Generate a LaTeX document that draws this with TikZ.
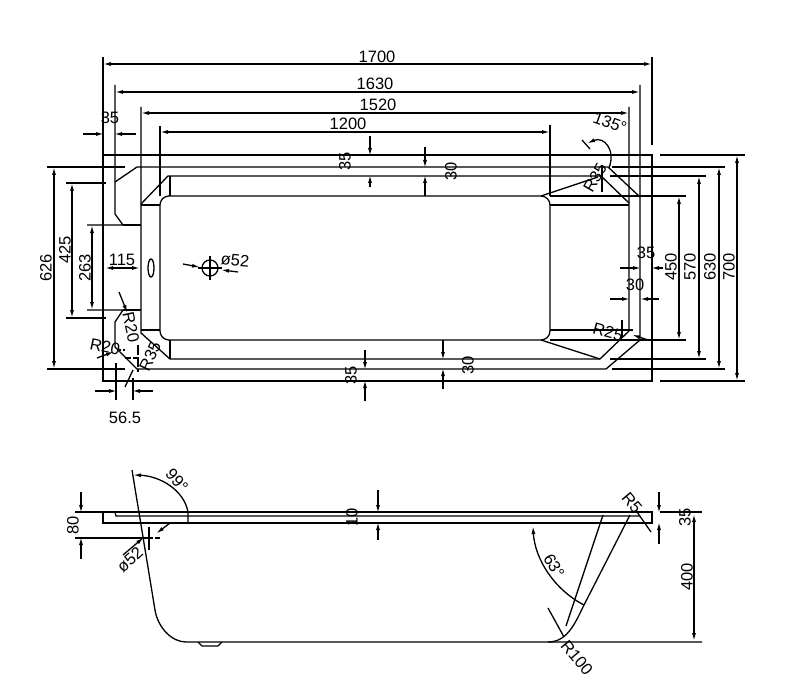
\documentclass[tikz,border=0pt]{standalone}
\usepackage{fontspec}
\setmainfont{Liberation Sans}
\usetikzlibrary{arrows.meta}
\tikzset{
  part/.style={line width=1.3pt},
  dimone/.style={-{Latex[length=8pt,width=4pt]}, line width=1.3pt, shorten >=-1pt},
  dimtwo/.style={{Latex[length=8pt,width=4pt]}-{Latex[length=8pt,width=4pt]}, line width=1.3pt},
  label/.style={inner sep=0pt, font=\fontsize{16.5}{16.5}\selectfont}
}
\begin{document}
\begin{tikzpicture}[x=1pt, y=-1pt]
  \useasboundingbox (0,0) rectangle (800,695);

  % Plan: outer rim
  \draw[part] (103,57) -- (103,381) -- (652,381) -- (652,155) -- (103,155);
  \draw[part] (652,57) -- (652,145);
  % Plan: second rim with the notch on the left
  \draw[part] (137,167) -- (608,167) -- (640,197);
  \draw[part] (640,85) -- (640,340) -- (606,369) -- (137,369) -- (115,347) -- (115,322) -- (123,310) -- (87,310);
  \draw[part] (115,85) -- (115,214) -- (123,225) -- (87,225);
  \draw[part] (115,182) -- (137,167);
  \draw[part] (123,225) -- (141,225);
  \draw[part] (123,310) -- (141,310);
  % Plan: inner rim
  \draw[part] (141,107) -- (141,333) -- (170,359) -- (600,359) -- (629,331) -- (629,107);
  \draw[part] (141,204) -- (168,176) -- (601,176) -- (629,203);
  \draw[part] (141,205) -- (160,205);
  \draw[part] (141,330) -- (160,330);
  \draw[part] (170,176) -- (170,196);
  \draw[part] (170,340) -- (170,359);
  % Plan: floor and right corner panels
  \draw[part, rounded corners=9pt] (160,196) -- (550,196) -- (550,340) -- (160,340) -- cycle;
  \draw[part] (550,205) -- (629,205);
  \draw[part] (550,330) -- (629,330);
  \draw[part] (541,196) -- (598,177);
  \draw[part] (541,340) -- (600,359);
  % Plan: waste and overflow
  \draw[part] (151,268) ellipse (3 and 9);
  \draw[part] (210,268) circle (8);
  \draw[part] (210,256) -- (210,280);
  \draw[part] (198,268) -- (222,268);

  % Extension lines of the plan
  \draw[part] (160,126) -- (160,196);
  \draw[part] (550,125) -- (550,196);
  \draw[part] (47,167) -- (125,167);
  \draw[part] (47,369) -- (125,369);
  \draw[part] (66,183) -- (106,183);
  \draw[part] (66,318) -- (106,318);
  \draw[part] (660,155) -- (745,155);
  \draw[part] (660,381) -- (745,381);
  \draw[part] (612,167) -- (725,167);
  \draw[part] (612,369) -- (725,369);
  \draw[part] (610,176) -- (706,176);
  \draw[part] (610,359) -- (706,359);
  \draw[part] (550,196) -- (686,196);
  \draw[part] (550,340) -- (686,340);
  \draw[part] (116,363) -- (116,400);
  \draw[part] (133,378) -- (133,400);

  % Plan: width dimensions
  \draw[dimtwo] (103,64) -- (652,64);
  \draw[dimtwo] (115,92) -- (640,92);
  \draw[dimtwo] (141,113) -- (629,113);
  \draw[dimtwo] (160,132) -- (550,132);
  \draw[dimone] (83,134) -- (103,134);
  \draw[dimone] (136,134) -- (115,134);
  \draw[dimtwo] (105,268) -- (140,268);
  \draw[dimone] (95,391) -- (116,391);
  \draw[dimone] (153,391) -- (133,391);
  \draw[dimone] (620,268) -- (640,268);
  \draw[dimone] (663,268) -- (652,268);
  \draw[dimone] (610,299) -- (629,299);
  \draw[dimone] (659,299) -- (641,299);
  % Plan: height dimensions
  \draw[dimtwo] (54,167) -- (54,369);
  \draw[dimtwo] (72,183) -- (72,318);
  \draw[dimtwo] (92,225) -- (92,310);
  \draw[dimtwo] (737,155) -- (737,381);
  \draw[dimtwo] (719,167) -- (719,369);
  \draw[dimtwo] (699,176) -- (699,359);
  \draw[dimtwo] (679,196) -- (679,340);
  \draw[dimone] (370,136) -- (370,155);
  \draw[dimone] (370,187) -- (370,176);
  \draw[dimone] (425,147) -- (425,167);
  \draw[dimone] (425,196) -- (425,176);
  \draw[dimone] (365,350) -- (365,369);
  \draw[dimone] (365,401) -- (365,381);
  \draw[dimone] (443,340) -- (443,359);
  \draw[dimone] (443,389) -- (443,369);

  % Plan: leaders and radius marks
  \draw[dimone] (183,264) -- (199,267);
  \draw[dimone] (238,272) -- (222,270);
  \draw[dimone] (119,292) -- (127,312);
  \draw[dimone] (97,358) -- (113,352);
  \draw[part] (125,387) -- (133,370);
  \draw[part, dashed, dash pattern=on 4pt off 2pt] (117,350) -- (125,350);
  \draw[part, dashed, dash pattern=on 6pt off 2pt] (125,358) -- (140,358);
  \draw[part, dashed, dash pattern=on 10pt off 2pt] (138,345) -- (138,372);
  \draw[part] (602,165) -- (602,192);
  \draw[part] (622,320) -- (622,338);
  \draw[part] (585,330) -- (633,330);
  \draw[dimone] (648,340) -- (633,335);
  \draw[part] (582,140) -- (590,149);
  \draw[dimone] (609,168) .. controls (616,150) and (604,136) .. (588,143);

  % Plan: labels
  \node[label] (w1700) at (377,57) {1700};
  \node[label] (w1630) at (375,84) {1630};
  \node[label] (w1520) at (378,105) {1520};
  \node[label] (w1200) at (348,124) {1200};
  \node[label] (w35a) at (110,118) {35};
  \node[label] (w115) at (122,260) {115};
  \node[label] (w565) at (125,418) {56.5};
  \node[label] (w35b) at (646,253) {35};
  \node[label] (w30) at (635,285) {30};
  \node[label, rotate=90] (h626) at (46,268) {626};
  \node[label, rotate=90] (h425) at (65,250) {425};
  \node[label, rotate=90] (h263) at (85,268) {263};
  \node[label, rotate=90] (h700) at (729,267) {700};
  \node[label, rotate=90] (h630) at (710,267) {630};
  \node[label, rotate=90] (h570) at (690,267) {570};
  \node[label, rotate=90] (h450) at (671,267) {450};
  \node[label, rotate=90] (h35a) at (345,161) {35};
  \node[label, rotate=90] (h30a) at (451,171) {30};
  \node[label, rotate=90] (h35b) at (351,375) {35};
  \node[label, rotate=90] (h30b) at (468,365) {30};
  \node[label, rotate=-5] (dia52) at (235,260) {ø52};
  \node[label, rotate=-78] (r20a) at (131,327) {R20};
  \node[label, rotate=-12] (r20b) at (105,347) {R20};
  \node[label, rotate=65] (r35a) at (150,356) {R35};
  \node[label, rotate=60] (r35b) at (595,178) {R35};
  \node[label, rotate=-15] (r25) at (608,332) {R25};
  \node[label, rotate=-20] (ang135) at (610,123) {135°};

  % Elevation: bath body
  \draw[part] (75,512) -- (652,512) -- (652,523) -- (103,523) -- (103,512);
  \draw[part] (115,512) -- (116,516) -- (640,516);
  \draw[part] (132,470) -- (155,610) .. controls (158,628) and (172,642) .. (186,642) -- (702,642);
  \draw[part] (198,642) -- (202,646) -- (218,646) -- (222,642);
  \draw[part] (630,515) -- (583,607) .. controls (574,626) and (566,642) .. (548,642);
  \draw[part] (603,515) -- (566,626);

  % Elevation: extension lines
  \draw[part] (75,538) -- (145,538);
  \draw[part] (660,512) -- (702,512);
  \draw[part] (149,527) -- (149,550);
  \draw[part, dashed, dash pattern=on 8pt off 2pt] (145,538) -- (160,538);

  % Elevation: dimensions
  \draw[dimone] (81,492) -- (81,512);
  \draw[dimone] (81,559) -- (81,538);
  \draw[dimone] (378,490) -- (378,512);
  \draw[dimone] (378,540) -- (378,523);
  \draw[dimone] (659,492) -- (659,512);
  \draw[dimone] (659,544) -- (659,523);
  \draw[dimtwo] (694,514) -- (694,641);
  \draw[dimone] (188,523) -- (188,512) .. controls (184,490) and (160,476) .. (134,475);
  \draw[dimone] (584,605) .. controls (555,590) and (535,560) .. (533,527);
  \draw[dimone] (170,523) -- (157,533);
  \draw[dimone] (123,555) -- (143,538);
  \draw[part] (548,608) -- (564,637);
  \draw[part] (637,512) -- (651,532);

  % Elevation: labels
  \node[label, rotate=90] (e80) at (73,525) {80};
  \node[label, rotate=90] (e10) at (352,517) {10};
  \node[label, rotate=90] (e35) at (685,517) {35};
  \node[label, rotate=90] (e400) at (687,577) {400};
  \node[label, rotate=-50] (ang99) at (177,480) {99°};
  \node[label, rotate=-60] (ang63) at (554,566) {63°};
  \node[label, rotate=42] (dia52b) at (130,560) {ø52};
  \node[label, rotate=-50] (r5) at (632,503) {R5};
  \node[label, rotate=-50] (r100) at (577,658) {R100};
\end{tikzpicture}
\end{document}
